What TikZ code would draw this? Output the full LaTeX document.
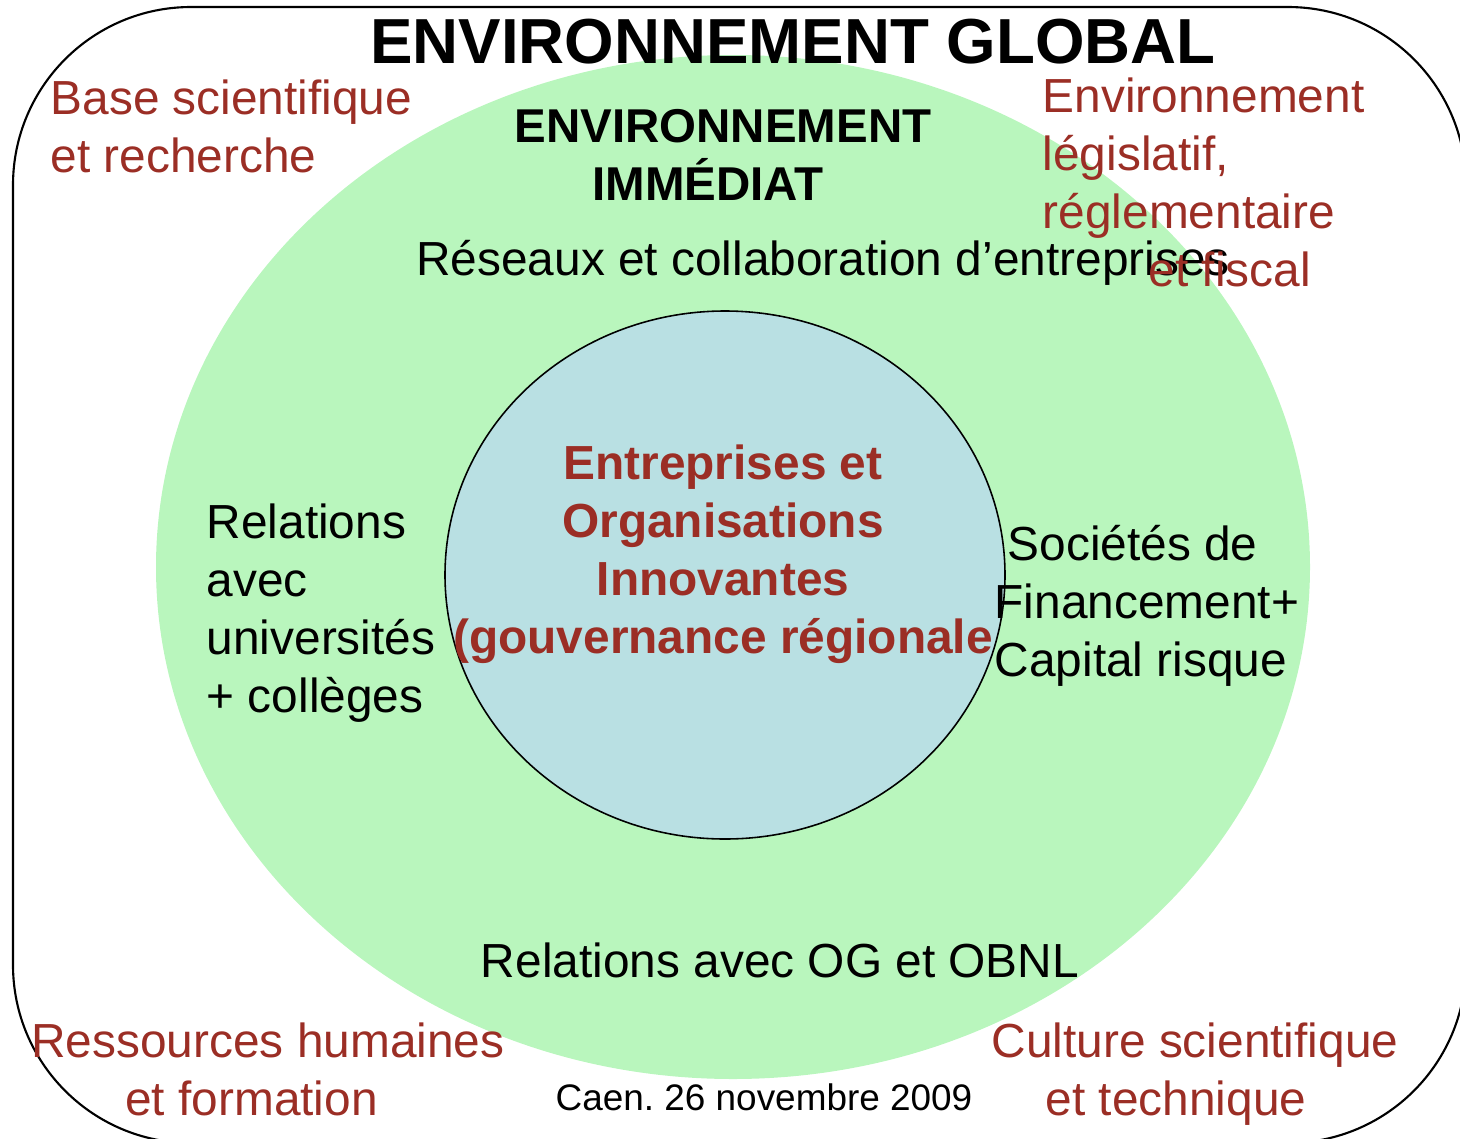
\documentclass[tikz,border=0pt]{standalone}
\usepackage{fontspec}
\setmainfont{Liberation Sans}
\definecolor{env_green}{RGB}{185,246,189}
\definecolor{env_blue}{RGB}{185,224,227}
\definecolor{env_red}{RGB}{155,46,37}
\tikzset{
    plaintext/.style={black, inner sep=0pt, font=\fontsize{13.6}{16.4}\selectfont},
    redtext/.style={plaintext, env_red},
    redbold/.style={redtext, font=\fontsize{13.6}{16.4}\selectfont\bfseries},
    headtext/.style={plaintext, font=\fontsize{13.5}{16.3}\selectfont\bfseries},
}

\begin{document}
\frenchspacing
\begin{tikzpicture}[x=0.01cm, y=-0.01cm]
    \useasboundingbox (0, 0) rectangle (1460, 1139);
    \begin{scope}
        \clip (0, 0) rectangle (1460, 1139);
        \draw [line width=0.6pt, rounded corners=1.78cm] (13, 7) rectangle (1466, 1143);
        \fill [env_green] (733, 567) ellipse [x radius=577, y radius=512];
        \filldraw [fill=env_blue, draw=black, line width=0.45pt] (725, 575) ellipse [x radius=280, y radius=264];
    \end{scope}

    % multi-line nodes are placed by the baseline of their last line
    \node [plaintext, font=\fontsize{18.1}{21}\selectfont\bfseries, anchor=base] (global) at (793, 63) {ENVIRONNEMENT GLOBAL};
    \node [headtext, anchor=base, align=center] (immediat) at (723, 200) {ENVIRONNEMENT\\IMMÉDIAT\hspace*{0.3cm}};
    \node [plaintext, anchor=base] (reseaux) at (823, 275) {Réseaux et collaboration d’entreprises};

    \node [redbold, anchor=base, align=center] (coeur) at (723, 653) {Entreprises et\\Organisations\\Innovantes\\(gouvernance régionale};

    \node [plaintext, anchor=base west, align=left] (univ) at (206, 712) {Relations\\avec\\universités\\+ collèges};
    \node [plaintext, anchor=base west, align=left] (finance) at (994, 676) {\hspace*{0.13cm}Sociétés de\\Financement+\\Capital risque};
    \node [plaintext, anchor=base] (og) at (780, 977) {Relations avec OG et OBNL};

    % facteurs de l'environnement global
    \node [redtext, anchor=base west, align=left] (recherche) at (50, 172) {Base scientifique\\et recherche};
    \node [redtext, anchor=base west, align=left] (legis) at (1042, 286) {Environnement\\législatif,\\réglementaire\\\hspace*{1.06cm}et fiscal};
    \node [redtext, anchor=base, align=center] (rh) at (268, 1115) {Ressources humaines\\et formation\hspace*{0.33cm}};
    \node [redtext, anchor=base, align=center] (culture) at (1195, 1115) {Culture scientifique\\et technique\hspace*{0.38cm}};

    \node [plaintext, font=\fontsize{10.5}{12.6}\selectfont, anchor=base] (caen) at (764, 1110) {Caen. 26 novembre 2009};
\end{tikzpicture}
\end{document}
